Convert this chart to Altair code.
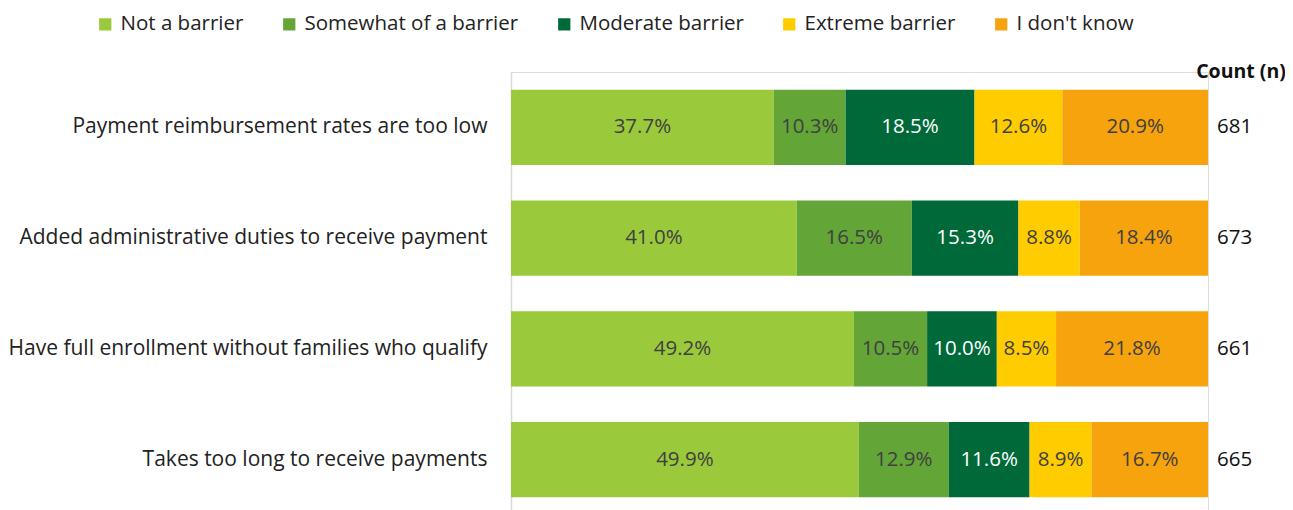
import altair as alt
import pandas as pd

categories = [
    "Payment reimbursement rates are too low",
    "Added administrative duties to receive payment",
    "Have full enrollment without families who qualify",
    "Takes too long to receive payments",
]
levels = ["Not a barrier", "Somewhat of a barrier", "Moderate barrier", "Extreme barrier", "I don't know"]
colors = ["#9ACA3C", "#63A537", "#00693A", "#FFCC00", "#F7A30E"]
label_colors = ["#404040", "#404040", "#FFFFFF", "#404040", "#404040"]

not_a_barrier = [37.7, 41.0, 49.2, 49.9]
somewhat = [10.3, 16.5, 10.5, 12.9]
moderate = [18.5, 15.3, 10.0, 11.6]
extreme = [12.6, 8.8, 8.5, 8.9]
dont_know = [20.9, 18.4, 21.8, 16.7]
counts = [681, 673, 661, 665]

series = [not_a_barrier, somewhat, moderate, extreme, dont_know]
rows = []
for li, (lvl, vals) in enumerate(zip(levels, series)):
    for ci, cat in enumerate(categories):
        rows.append({"category": cat, "level": lvl, "order": li, "value": vals[ci],
                     "label": f"{vals[ci]:.1f}%", "tcolor": label_colors[li]})
df = pd.DataFrame(rows)
cdf = pd.DataFrame({"category": categories, "count": [str(c) for c in counts]})

FONT = "Open Sans"
W, H = 697, 443

y_enc = alt.Y("category:N", sort=categories, title=None,
              scale=alt.Scale(paddingInner=0.32, paddingOuter=0.16),
              axis=alt.Axis(ticks=False, labelPadding=24, labelFontSize=21, labelFont=FONT,
                            labelColor="#222222", domainColor="#D9D9D9", domainWidth=1.5,
                            labelLimit=700))

base = alt.Chart(df)
bars = base.mark_bar().encode(
    x=alt.X("value:Q", stack="zero", scale=alt.Scale(domain=[0, 100]), axis=None),
    y=y_enc,
    color=alt.Color("level:N", sort=levels, scale=alt.Scale(domain=levels, range=colors),
                    legend=alt.Legend(title=None, orient="none", direction="horizontal",
                                      legendX=-416, legendY=-58, symbolType="square",
                                      symbolSize=150, symbolStrokeWidth=0,
                                      labelFont=FONT, labelFontSize=20.5, labelColor="#222222",
                                      columnPadding=35, labelOffset=5, labelLimit=400)),
    order=alt.Order("order:Q"),
)

texts = base.transform_stack(
    stack="value", groupby=["category"], as_=["x0", "x1"], sort=[alt.SortField("order")]
).transform_calculate(mid="(datum.x0 + datum.x1) / 2").mark_text(
    font=FONT, fontSize=20.5
).encode(
    x=alt.X("mid:Q"),
    y=alt.Y("category:N", sort=categories),
    text="label:N",
    color=alt.Color("tcolor:N", scale=None),
)

count_text = alt.Chart(cdf).mark_text(font=FONT, fontSize=20.5, align="left", color="#111111").encode(
    x=alt.value(W + 9),
    y=alt.Y("category:N", sort=categories),
    text="count:N",
)

header = alt.Chart(pd.DataFrame({"t": ["Count (n)"]})).mark_text(
    font=FONT, fontSize=19.5, fontWeight="bold", align="center", color="#111111"
).encode(x=alt.value(W + 33), y=alt.value(0), text="t:N")

chart = alt.layer(bars, texts, count_text, header).properties(
    width=W, height=H,
    autosize=alt.AutoSizeParams(type="none"),
    padding={"left": 503, "top": 64, "right": 77, "bottom": 0},
).configure_view(stroke=None).configure(background="white")

chart.save("out.html", embed_options={"renderer": "svg", "actions": False})
